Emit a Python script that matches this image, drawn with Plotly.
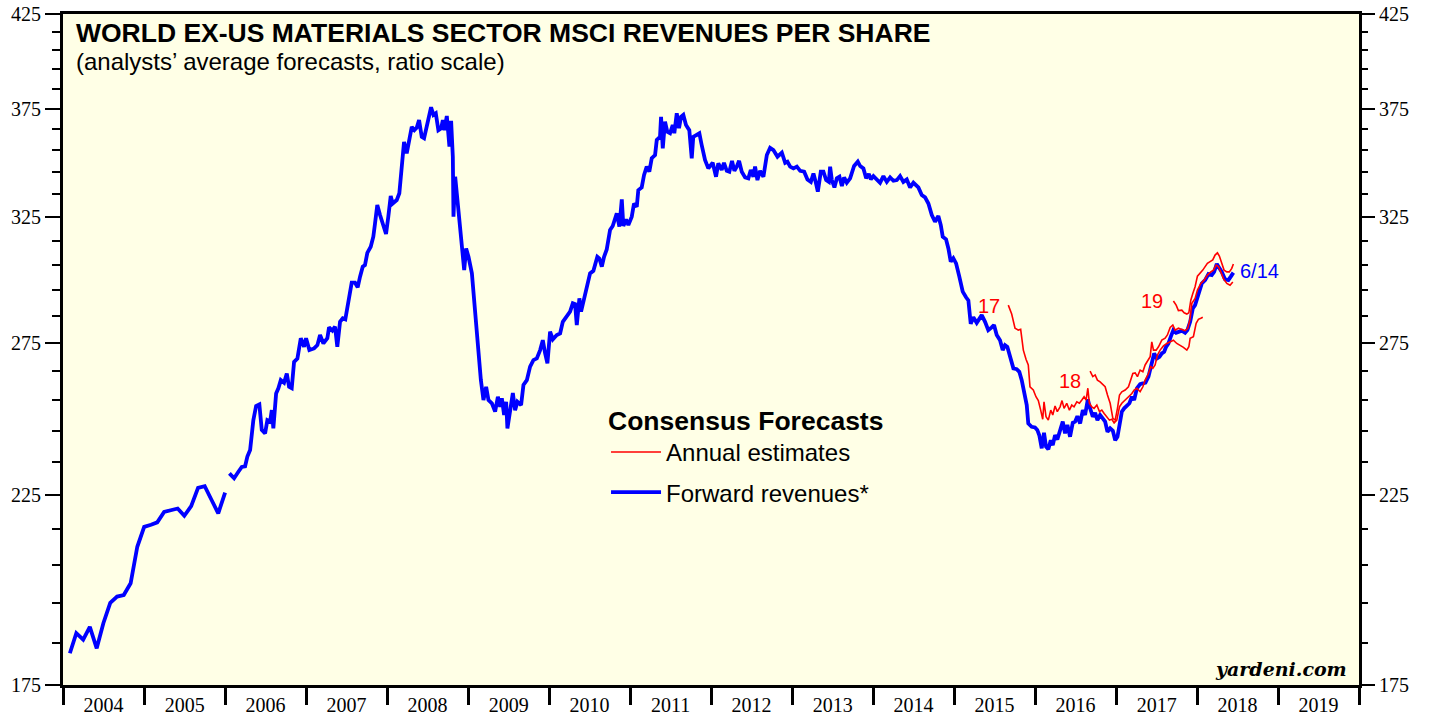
import math
from datetime import datetime
import plotly.graph_objects as go

# ---------------- data ----------------
# Forward revenues, monthly 2004-2005 (first of month)
fwd_monthly_dates = ["2004-02-01", "2004-03-01", "2004-04-01", "2004-05-01", "2004-06-01", "2004-07-01",
                     "2004-08-01", "2004-09-01", "2004-10-01", "2004-11-01", "2004-12-01", "2005-01-01",
                     "2005-02-01", "2005-03-01", "2005-04-01", "2005-05-01", "2005-06-01", "2005-07-01",
                     "2005-08-01", "2005-09-01", "2005-10-01", "2005-11-01", "2005-12-01", "2006-01-01"]
fwd_monthly_vals = [182.5, 187.4, 185.8, 189.0, 183.7, 189.9, 195.1, 196.7, 197.1, 200.2, 210.1, 215.7,
                    216.3, 217.0, 220.0, 220.5, 221.0, 218.9, 221.7, 227.1, 227.6, 223.5, 219.6, 225.7]

# Forward revenues, weekly-ish from 2006 (decimal years)
fwd_t = [2006.053, 2006.111, 2006.164, 2006.206, 2006.247, 2006.275, 2006.309, 2006.349, 2006.383, 2006.423,
         2006.453, 2006.494, 2006.522, 2006.556, 2006.577, 2006.596, 2006.630, 2006.658, 2006.688, 2006.728,
         2006.762, 2006.790, 2006.823, 2006.852, 2006.893, 2006.935, 2006.975, 2007.000, 2007.041, 2007.099,
         2007.140, 2007.173, 2007.214, 2007.263, 2007.284, 2007.325, 2007.358, 2007.386, 2007.420, 2007.453,
         2007.485, 2007.522, 2007.564, 2007.605, 2007.638, 2007.667, 2007.700, 2007.728, 2007.757, 2007.799,
         2007.831, 2007.852, 2007.880, 2007.914, 2007.954, 2007.988, 2008.016, 2008.046, 2008.070, 2008.120,
         2008.152, 2008.181, 2008.210, 2008.243, 2008.275, 2008.305, 2008.337, 2008.367, 2008.395, 2008.428,
         2008.457, 2008.490, 2008.519, 2008.543, 2008.572, 2008.601, 2008.633, 2008.667, 2008.688, 2008.707,
         2008.737, 2008.757, 2008.769, 2008.790, 2008.811, 2008.819, 2008.840, 2008.868, 2008.901, 2008.932,
         2008.951, 2008.975, 2009.004, 2009.046, 2009.074, 2009.107, 2009.127, 2009.157, 2009.189, 2009.222,
         2009.251, 2009.293, 2009.333, 2009.367, 2009.395, 2009.416, 2009.444, 2009.469, 2009.485, 2009.519,
         2009.552, 2009.580, 2009.609, 2009.654, 2009.683, 2009.725, 2009.765, 2009.806, 2009.848, 2009.889,
         2009.922, 2009.951, 2009.979, 2010.012, 2010.046, 2010.095, 2010.136, 2010.169, 2010.219, 2010.259,
         2010.293, 2010.321, 2010.342, 2010.374, 2010.395, 2010.432, 2010.465, 2010.506, 2010.547, 2010.596,
         2010.621, 2010.651, 2010.679, 2010.712, 2010.753, 2010.786, 2010.836, 2010.868, 2010.898, 2010.917,
         2010.951, 2010.979, 2011.021, 2011.049, 2011.083, 2011.102, 2011.144, 2011.173, 2011.206, 2011.238,
         2011.268, 2011.309, 2011.330, 2011.370, 2011.383, 2011.404, 2011.432, 2011.460, 2011.494, 2011.527,
         2011.547, 2011.577, 2011.605, 2011.630, 2011.658, 2011.691, 2011.732, 2011.762, 2011.781, 2011.823,
         2011.856, 2011.885, 2011.926, 2011.967, 2012.021, 2012.062, 2012.090, 2012.132, 2012.160, 2012.194,
         2012.226, 2012.259, 2012.288, 2012.317, 2012.346, 2012.379, 2012.420, 2012.460, 2012.490, 2012.522,
         2012.543, 2012.572, 2012.605, 2012.646, 2012.688, 2012.728, 2012.769, 2012.819, 2012.873, 2012.914,
         2012.942, 2012.975, 2013.016, 2013.058, 2013.099, 2013.148, 2013.189, 2013.231, 2013.263, 2013.293,
         2013.317, 2013.354, 2013.386, 2013.420, 2013.453, 2013.469, 2013.490, 2013.522, 2013.552, 2013.584,
         2013.614, 2013.642, 2013.675, 2013.716, 2013.765, 2013.811, 2013.840, 2013.880, 2013.914, 2013.947,
         2013.972, 2014.004, 2014.046, 2014.086, 2014.127, 2014.169, 2014.210, 2014.251, 2014.293, 2014.333,
         2014.374, 2014.416, 2014.457, 2014.498, 2014.559, 2014.601, 2014.642, 2014.683, 2014.725, 2014.765,
         2014.806, 2014.836, 2014.860, 2014.901, 2014.930, 2014.959, 2014.991, 2015.025, 2015.065, 2015.107,
         2015.148, 2015.177, 2015.206, 2015.238, 2015.280, 2015.312, 2015.342, 2015.383, 2015.423, 2015.465,
         2015.494, 2015.527, 2015.568, 2015.601, 2015.630, 2015.658, 2015.691, 2015.733, 2015.774, 2015.806,
         2015.836, 2015.877, 2015.898, 2015.917, 2015.959, 2016.000, 2016.028, 2016.053, 2016.083, 2016.111,
         2016.136, 2016.164, 2016.194, 2016.219, 2016.247, 2016.275, 2016.309, 2016.342, 2016.370, 2016.399,
         2016.432, 2016.465, 2016.494, 2016.522, 2016.556, 2016.589, 2016.617, 2016.651, 2016.679, 2016.712,
         2016.741, 2016.769, 2016.802, 2016.836, 2016.864, 2016.893, 2016.926, 2016.959, 2016.988, 2017.016,
         2017.041, 2017.070, 2017.099, 2017.132, 2017.164, 2017.194, 2017.222, 2017.256, 2017.296, 2017.330,
         2017.362, 2017.399, 2017.428, 2017.453, 2017.469, 2017.502, 2017.535, 2017.564, 2017.593, 2017.617,
         2017.646, 2017.675, 2017.707, 2017.741, 2017.769, 2017.811, 2017.852, 2017.880, 2017.914, 2017.947,
         2017.975, 2018.004, 2018.028, 2018.058, 2018.099, 2018.140, 2018.181, 2018.210, 2018.243, 2018.275,
         2018.305, 2018.346, 2018.386, 2018.416, 2018.448]
fwd_v = [231.5, 230.0, 232.0, 233.5, 233.7, 236.7, 238.8, 248.4, 253.1, 253.6,
         245.2, 244.1, 248.4, 247.9, 251.7, 245.7, 257.3, 259.1, 261.9, 261.0,
         264.2, 259.6, 259.1, 268.3, 269.5, 276.8, 273.7, 276.8, 272.5, 273.1,
         274.3, 278.0, 274.9, 276.8, 280.8, 279.6, 281.1, 273.7, 282.9, 284.2,
         283.8, 291.1, 297.9, 297.9, 296.1, 300.3, 304.3, 304.9, 309.9, 312.4,
         316.6, 322.2, 330.1, 325.8, 320.8, 317.7, 325.1, 334.1, 330.8, 332.3,
         335.3, 345.0, 358.9, 353.5, 358.9, 366.1, 364.5, 365.8, 369.4, 361.3,
         360.6, 366.1, 370.2, 375.7, 371.9, 372.7, 364.5, 365.4, 369.4, 364.5,
         371.4, 361.3, 356.6, 369.0, 351.9, 325.1, 342.7, 332.3, 321.5, 312.3,
         302.9, 311.7, 308.3, 301.6, 291.1, 279.8, 271.3, 261.9, 255.1, 259.6,
         255.1, 254.0, 251.2, 256.2, 252.8, 255.7, 250.1, 254.5, 245.7, 251.7,
         257.5, 251.7, 254.5, 253.4, 260.2, 261.9, 266.6, 268.9, 269.5, 272.5,
         276.1, 271.3, 267.8, 279.2, 276.4, 278.0, 278.6, 282.9, 284.8, 286.7,
         289.9, 289.6, 281.7, 291.8, 286.7, 291.4, 295.0, 301.6, 302.6, 308.3,
         307.6, 304.3, 308.3, 311.3, 319.4, 321.1, 326.5, 320.8, 332.6, 321.1,
         323.9, 321.5, 325.1, 330.8, 329.4, 336.7, 337.9, 343.5, 347.3, 345.0,
         351.2, 352.7, 359.8, 361.3, 371.0, 355.8, 368.6, 363.7, 363.0, 367.0,
         363.0, 372.7, 365.4, 371.0, 371.9, 367.0, 364.5, 351.2, 361.3, 362.2,
         363.0, 357.4, 350.4, 346.5, 349.1, 342.7, 348.8, 345.8, 349.1, 345.4,
         345.0, 350.0, 345.4, 347.3, 350.0, 345.0, 342.4, 342.0, 345.8, 342.7,
         347.3, 341.2, 345.4, 342.7, 352.7, 356.1, 355.0, 351.9, 353.8, 349.1,
         349.6, 347.3, 346.5, 347.3, 345.4, 345.0, 341.5, 340.4, 344.2, 340.0,
         336.0, 345.0, 345.0, 341.2, 340.4, 347.3, 341.2, 337.9, 342.0, 342.7,
         338.5, 342.4, 340.0, 342.0, 347.6, 349.6, 347.6, 346.5, 342.0, 344.0,
         341.5, 343.0, 341.5, 340.0, 343.0, 340.4, 342.4, 340.9, 341.2, 343.0,
         340.4, 341.5, 337.9, 340.0, 337.9, 334.5, 333.5, 330.8, 325.8, 322.9,
         325.4, 321.5, 316.6, 315.5, 311.7, 306.3, 307.7, 305.6, 300.3, 294.4,
         292.2, 291.0, 282.1, 284.6, 282.5, 284.2, 285.4, 282.9, 279.8, 280.8,
         281.7, 278.0, 276.1, 272.5, 274.3, 273.7, 270.1, 266.0, 265.7, 264.8,
         261.9, 255.1, 253.4, 247.3, 246.2, 246.0, 245.2, 243.5, 239.3, 244.3,
         239.8, 239.0, 241.9, 240.3, 243.5, 242.1, 245.2, 247.9, 244.1, 246.8,
         243.0, 247.5, 247.9, 249.7, 247.3, 251.7, 250.1, 255.3, 252.3, 249.5,
         250.8, 248.4, 250.1, 249.0, 247.9, 244.6, 245.7, 244.9, 241.9, 243.0,
         246.8, 251.2, 252.3, 253.1, 254.0, 256.2, 255.1, 259.1, 260.5, 260.8,
         261.0, 263.1, 266.8, 268.9, 271.3, 269.5, 270.1, 271.3, 271.9, 273.7,
         274.9, 277.4, 279.8, 278.8, 279.2, 279.6, 278.8, 279.8, 282.9, 288.0,
         289.2, 291.8, 295.0, 297.6, 298.9, 301.3, 300.9, 302.2, 305.4, 304.0,
         302.2, 299.2, 298.9, 300.3, 301.9]

# Annual estimates (decimal years)
est17_t = [2015.670, 2015.712, 2015.753, 2015.794, 2015.823, 2015.856, 2015.889, 2015.917, 2015.938, 2015.979,
           2016.012, 2016.041, 2016.070, 2016.095, 2016.111, 2016.136, 2016.164, 2016.194, 2016.219, 2016.247,
           2016.275, 2016.309, 2016.333, 2016.358, 2016.391, 2016.424, 2016.453, 2016.481, 2016.515, 2016.547,
           2016.577, 2016.605, 2016.630, 2016.651, 2016.670, 2016.700, 2016.728, 2016.762, 2016.794, 2016.823,
           2016.852, 2016.885, 2016.917, 2016.947, 2016.975, 2017.008, 2017.041, 2017.070, 2017.111, 2017.152,
           2017.194, 2017.222, 2017.256, 2017.296, 2017.330, 2017.358, 2017.399, 2017.428, 2017.453, 2017.481,
           2017.510, 2017.543, 2017.584, 2017.626, 2017.667, 2017.707, 2017.749, 2017.790, 2017.831, 2017.873,
           2017.898, 2017.914, 2017.954, 2017.988, 2018.016, 2018.046, 2018.070]
est17_v = [289.2, 285.8, 280.5, 279.8, 280.1, 272.5, 269.2, 267.2, 259.6, 258.5,
           256.2, 254.9, 251.7, 248.7, 254.5, 249.5, 248.4, 251.7, 250.1, 253.1,
           251.2, 252.8, 254.9, 252.3, 254.0, 251.7, 253.4, 252.8, 254.5, 254.0,
           255.1, 256.2, 255.1, 259.1, 254.0, 252.8, 252.3, 253.4, 251.2, 251.7,
           250.6, 249.5, 248.4, 248.7, 247.5, 248.4, 252.8, 254.0, 255.1, 256.2,
           257.3, 258.5, 259.1, 257.9, 259.6, 261.9, 264.2, 266.6, 266.0, 267.2,
           270.7, 272.5, 274.0, 274.9, 275.5, 276.1, 274.9, 274.3, 273.5, 272.5,
           273.7, 276.8, 277.4, 282.3, 283.8, 284.2, 284.6]

est18_t = [2016.679, 2016.712, 2016.741, 2016.769, 2016.802, 2016.836, 2016.864, 2016.893, 2016.926, 2016.959,
           2016.988, 2017.016, 2017.041, 2017.070, 2017.111, 2017.152, 2017.181, 2017.206, 2017.235, 2017.263,
           2017.296, 2017.330, 2017.358, 2017.386, 2017.420, 2017.440, 2017.461, 2017.494, 2017.523, 2017.564,
           2017.605, 2017.633, 2017.667, 2017.700, 2017.728, 2017.769, 2017.811, 2017.852, 2017.885, 2017.914,
           2017.935, 2017.975, 2018.004, 2018.046, 2018.086, 2018.127, 2018.169, 2018.201, 2018.235, 2018.263,
           2018.293, 2018.325, 2018.367, 2018.407, 2018.441]
est18_v = [265.0, 263.1, 263.7, 261.9, 261.3, 260.5, 259.6, 256.8, 254.0, 249.0,
           248.4, 252.3, 256.8, 257.9, 258.5, 259.6, 261.9, 264.2, 264.4, 263.1,
           265.4, 264.8, 267.2, 268.4, 270.1, 275.5, 272.5, 272.5, 273.7, 276.1,
           276.8, 278.0, 280.8, 281.7, 279.8, 280.5, 280.1, 279.6, 280.5, 284.2,
           289.9, 291.8, 295.0, 297.6, 298.9, 300.9, 302.2, 302.9, 304.9, 304.3,
           302.2, 299.5, 297.6, 296.9, 298.2]

est19_t = [2017.707, 2017.741, 2017.769, 2017.811, 2017.840, 2017.873, 2017.898, 2017.922, 2017.947, 2017.975,
           2018.004, 2018.037, 2018.070, 2018.099, 2018.127, 2018.160, 2018.193, 2018.222, 2018.251, 2018.275,
           2018.305, 2018.333, 2018.367, 2018.398, 2018.428, 2018.448]
est19_v = [290.8, 289.2, 287.1, 287.3, 286.3, 285.8, 286.3, 291.1, 293.7, 296.3,
           300.5, 301.6, 302.9, 304.3, 305.6, 306.3, 307.0, 309.0, 309.9, 308.6,
           305.6, 302.9, 302.2, 302.2, 303.6, 305.4]

y_major = [175, 225, 275, 325, 375, 425]
y_minor = [v for v in range(185, 425, 10) if v not in y_major]
year_range = ["2004-01-01", "2020-01-01"]


def to_date(dy):
    year = int(dy)
    start = datetime(year, 1, 1)
    end = datetime(year + 1, 1, 1)
    return start + (end - start) * (dy - year)


fwd_x = [datetime.fromisoformat(d) for d in fwd_monthly_dates] + [None] + [to_date(t) for t in fwd_t]
fwd_y = fwd_monthly_vals + [None] + fwd_v

RED = "#FF0000"
BLUE = "#0000FF"
SANS = "Liberation Sans, Arial, sans-serif"
SERIF = "Liberation Serif, Times New Roman, serif"

W, H = 1429, 717

fig = go.Figure()

fig.add_trace(go.Scatter(x=fwd_x, y=fwd_y, mode="lines", name="Forward revenues*",
                         line=dict(color=BLUE, width=3.8), connectgaps=False,
                         legendgroup="fwd", legendrank=2, hoverinfo="x+y"))

for i, (tt, vv) in enumerate([(est17_t, est17_v), (est18_t, est18_v), (est19_t, est19_v)]):
    fig.add_trace(go.Scatter(x=[to_date(t) for t in tt], y=vv, mode="lines",
                             name="Annual estimates", legendgroup="est", legendrank=1,
                             showlegend=(i == 0), line=dict(color=RED, width=1.6)))

# invisible helper trace so the right-hand axis is drawn
fig.add_trace(go.Scatter(x=[to_date(fwd_t[0])], y=[fwd_v[0]], yaxis="y2", mode="lines",
                         showlegend=False, hoverinfo="skip", line=dict(width=0)))

yrange = [math.log10(175), math.log10(425)]
yaxis_common = dict(
    type="log", range=yrange, tickmode="array", tickvals=y_major,
    ticktext=[str(v) for v in y_major], ticks="outside", ticklen=15, tickwidth=2,
    tickcolor="black", showgrid=False, zeroline=False, automargin=False,
    ticklabeloverflow="allow",
    tickfont=dict(family=SERIF, size=20, color="black"),
    minor=dict(tickmode="array", tickvals=y_minor, ticks="outside", ticklen=8,
               tickwidth=2, tickcolor="black", showgrid=False),
)

fig.update_layout(
    width=W, height=H,
    margin=dict(l=63, r=70, t=14, b=32, autoexpand=False),
    paper_bgcolor="white",
    plot_bgcolor="#FFFFE6",
    showlegend=True,
    xaxis=dict(
        type="date", range=year_range, tick0="2004-01-01", dtick="M12",
        ticklabelmode="period", tickformat="%Y", ticks="outside", ticklen=17,
        tickwidth=3, tickcolor="black", ticklabelstandoff=-17, automargin=False,
        showline=True, linewidth=3, linecolor="black", mirror=True,
        showgrid=False, zeroline=False,
        tickfont=dict(family=SERIF, size=20, color="black"),
    ),
    yaxis=dict(**yaxis_common, showline=True, linewidth=3, linecolor="black", mirror=True),
    yaxis2=dict(**yaxis_common, overlaying="y", side="right", showline=False),
    legend=dict(
        x=0.419, y=0.4315, xanchor="left", yanchor="top",
        bgcolor="rgba(0,0,0,0)", borderwidth=0,
        title=dict(text="<b>Consensus Forecasts</b>", font=dict(family=SANS, size=26.5, color="black")),
        font=dict(family=SANS, size=24, color="black"),
        tracegroupgap=6, itemwidth=50,
    ),
    title=dict(
        text="<b>WORLD EX-US MATERIALS SECTOR MSCI REVENUES PER SHARE</b>",
        x=76 / W, xanchor="left", xref="container",
        y=1 - 33 / H, yanchor="middle", yref="container", automargin=False,
        font=dict(family=SANS, size=26.5, color="black"),
    ),
)

annotations = [
    dict(text="(analysts’ average forecasts, ratio scale)", xref="paper", yref="paper",
         x=11 / 1296, y=1 - 48 / 671, xanchor="left", yanchor="middle", showarrow=False,
         font=dict(family=SANS, size=24, color="black")),
    dict(text="<b><i>yardeni.com</i></b>", xref="paper", yref="paper",
         x=0.992, y=0.004, xanchor="right", yanchor="bottom", showarrow=False,
         font=dict(family="DejaVu Serif, serif", size=19, color="black")),
    dict(text="6/14", x=to_date(fwd_t[-1]), y=math.log10(fwd_v[-1]), xanchor="left",
         yanchor="middle", xshift=5, yshift=2, showarrow=False, font=dict(family=SANS, size=20, color=BLUE)),
    dict(text="17", x=to_date(est17_t[0]), y=math.log10(est17_v[0]), xanchor="right",
         yanchor="middle", xshift=-6, yshift=-1, showarrow=False, font=dict(family=SANS, size=20, color=RED)),
    dict(text="18", x=to_date(est18_t[0]), y=math.log10(est18_v[0]), xanchor="right",
         yanchor="middle", xshift=-7, yshift=-10, showarrow=False, font=dict(family=SANS, size=20, color=RED)),
    dict(text="19", x=to_date(est19_t[0]), y=math.log10(est19_v[0]), xanchor="right",
         yanchor="middle", xshift=-8, yshift=0, showarrow=False, font=dict(family=SANS, size=20, color=RED)),
]
fig.update_layout(annotations=annotations)

# remove the default 8px page margin so the figure fills the window exactly
page_js = ("document.body.style.margin='0';document.body.style.overflow='hidden';"
           "document.documentElement.style.overflow='hidden';")
fig.write_html("out.html", post_script=page_js, config={"displayModeBar": False})
